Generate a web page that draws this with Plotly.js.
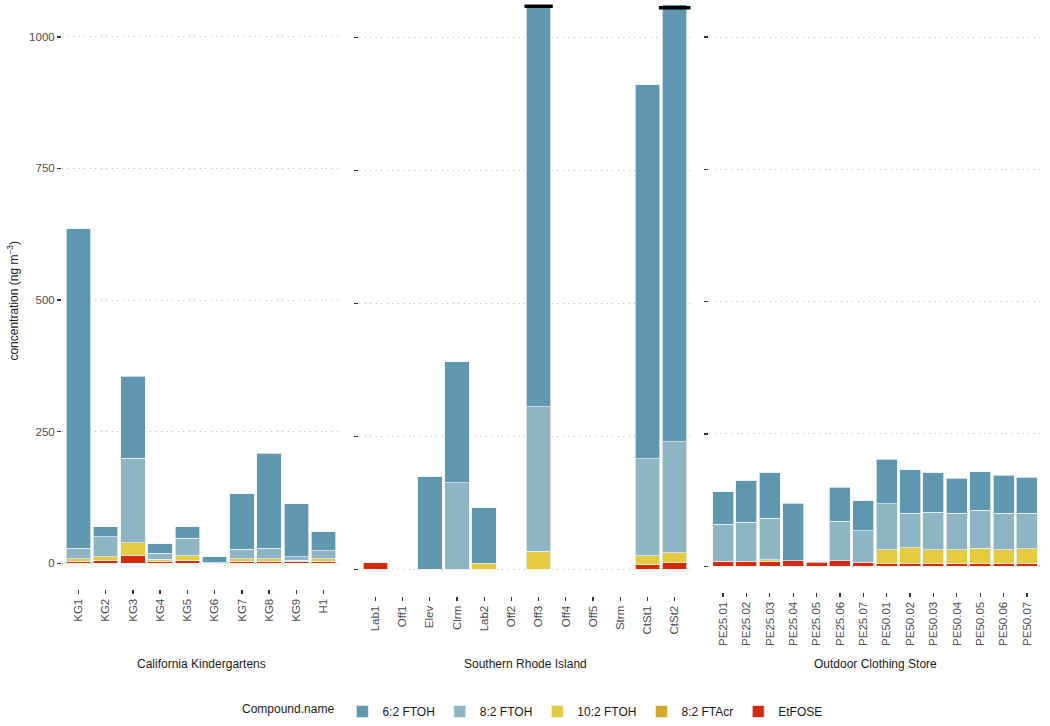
<!DOCTYPE html>
<html>
<head>
<meta charset="utf-8">
<script src="https://cdn.plot.ly/plotly-3.0.1.min.js"></script>
<style>html,body{margin:0;padding:0;background:#fff}#chart{width:1050px;height:726px}</style>
</head>
<body>
<div id="chart"></div>
<script>
// ---- Data ----
const compounds = ['6:2 FTOH', '8:2 FTOH', '10:2 FTOH', '8:2 FTAcr', 'EtFOSE'];
const colors = ['#5f97b0', '#8db5c3', '#e3ca3f', '#d3a92a', '#d42a0c'];

const panelNames = ['California Kindergartens', 'Southern Rhode Island', 'Outdoor Clothing Store'];

const catKG = ['KG1', 'KG2', 'KG3', 'KG4', 'KG5', 'KG6', 'KG7', 'KG8', 'KG9', 'H1'];
const catRI = ['Lab1', 'Off1', 'Elev', 'Clrm', 'Lab2', 'Off2', 'Off3', 'Off4', 'Off5', 'Strm', 'CtSt1', 'CtSt2'];
const catOC = ['PE25.01', 'PE25.02', 'PE25.03', 'PE25.04', 'PE25.05', 'PE25.06', 'PE25.07',
               'PE50.01', 'PE50.02', 'PE50.03', 'PE50.04', 'PE50.05', 'PE50.06', 'PE50.07'];

// California Kindergartens
const ftoh62_KG  = [606.5, 19, 156, 18, 21.5, 11, 105.5, 180.5, 101, 36];
const ftoh82_KG  = [19.5, 38, 160, 11.4, 33.5, 1, 17.5, 19.5, 6, 14.4];
const ftoh102_KG = [5, 7, 24, 3.6, 8, 0, 5, 5, 2, 5];
const ftacr_KG   = [0, 0, 0, 0, 0, 0, 0, 0, 0, 0];
const etfose_KG  = [4, 5, 15, 4, 6, 0, 4, 4, 4, 4];

// Southern Rhode Island
const ftoh62_RI  = [0, 0, 174, 227, 104.6, 0, 756, 0, 0, 0, 703.5, 822];
const ftoh82_RI  = [0, 0, 0, 163, 0, 0, 272, 0, 0, 0, 182.5, 209];
const ftoh102_RI = [0, 0, 0, 0, 11, 0, 34, 0, 0, 0, 17, 19];
const ftacr_RI   = [0, 0, 0, 0, 0, 0, 0, 0, 0, 0, 0, 0];
const etfose_RI  = [12, 0, 0, 0, 0, 0, 0, 0, 0, 0, 8, 12];

// Outdoor Clothing Store
const ftoh62_OC  = [62, 78.5, 86, 109, 0, 64, 57, 84, 82, 75, 66.5, 72.4, 71.5, 68];
const ftoh82_OC  = [69.6, 74, 78.5, 0, 0, 74.7, 59.5, 86.6, 65.5, 71, 68.6, 72, 69, 67.3];
const ftoh102_OC = [0, 0, 3, 0, 0, 0, 0, 26.4, 29.5, 26, 26.4, 29, 26, 27.7];
const ftacr_OC   = [0, 0, 0, 0, 0, 0, 0, 0, 0, 0, 0, 0, 0, 0];
const etfose_OC  = [9.4, 9.4, 9.4, 10, 8, 10.7, 7.5, 5, 5, 5, 5, 5, 5, 5];

// truncated bars (axis-break markers)
const breakCats = ['Off3', 'CtSt2'];
const breakLevels = [1059, 1056];

const yTicks = [0, 250, 500, 750, 1000];

// ---- Build ----
const panels = [
  {cats: catKG, series: [ftoh62_KG, ftoh82_KG, ftoh102_KG, ftacr_KG, etfose_KG], xa: 'x', ya: 'y'},
  {cats: catRI, series: [ftoh62_RI, ftoh82_RI, ftoh102_RI, ftacr_RI, etfose_RI], xa: 'x2', ya: 'y2'},
  {cats: catOC, series: [ftoh62_OC, ftoh82_OC, ftoh102_OC, ftacr_OC, etfose_OC], xa: 'x3', ya: 'y3'}
];

const traces = [];
// stacking order: bottom first (EtFOSE ... 6:2 FTOH on top)
for (let c = compounds.length - 1; c >= 0; c--) {
  panels.forEach((p, pi) => {
    traces.push({
      type: 'bar',
      name: compounds[c],
      legendgroup: compounds[c],
      showlegend: pi === 0,
      x: p.cats,
      y: p.series[c].map(v => v === 0 ? null : v),
      xaxis: p.xa,
      yaxis: p.ya,
      marker: {color: colors[c], line: {color: 'rgba(235,243,246,0.9)', width: 0.8}},
      hoverinfo: 'x+y+name'
    });
  });
}

const FONT = 'Liberation Sans, Arial, Helvetica, sans-serif';
const W = 1050, H = 726;
const px = v => v / W;
const py = v => 1 - v / H;

function xAxis(domain, n) {
  return {
    domain: domain, type: 'category', range: [-0.6, n - 0.4],
    tickangle: -90, ticks: 'outside', ticklen: 4, tickwidth: 1.3, tickcolor: '#333',
    showgrid: false, showline: false, zeroline: false, fixedrange: true,
    tickfont: {family: FONT, size: 11.5, color: '#4d4d4d'}
  };
}
function yAxis(domain, range, anchor, labels) {
  return {
    domain: domain, range: range, anchor: anchor,
    tickvals: yTicks, showticklabels: labels,
    ticks: 'outside', ticklen: 4, tickwidth: 1.3, tickcolor: '#333',
    showgrid: true, gridcolor: '#b5b5b5', gridwidth: 1, griddash: '1px,4.5px',
    zeroline: false, showline: false, fixedrange: true,
    tickfont: {family: FONT, size: 11.5, color: '#4d4d4d'}
  };
}

const xa1 = xAxis([px(62), px(340)], catKG.length); xa1.anchor = 'y';
const xa2 = xAxis([px(359), px(691)], catRI.length); xa2.anchor = 'y2';
const xa3 = xAxis([px(709), px(1041)], catOC.length); xa3.anchor = 'y3';

const shapes = breakCats.map((cat, i) => {
  const idx = catRI.indexOf(cat);
  const half = i === 0 ? 0.52 : 0.58;
  return {type: 'line', xref: 'x2', yref: 'y2', x0: idx - half, x1: idx + half,
          y0: breakLevels[i], y1: breakLevels[i], line: {color: '#000', width: 3.5}};
});

const annotations = [
  {text: 'concentration (ng m<sup>\u22123</sup>)', xref: 'paper', yref: 'paper',
   x: px(13), y: py(301), textangle: -90, showarrow: false, xanchor: 'center', yanchor: 'middle',
   font: {family: FONT, size: 12, color: '#1a1a1a'}},
  {text: panelNames[0], xref: 'paper', yref: 'paper', x: px(201), y: py(665), showarrow: false,
   xanchor: 'center', yanchor: 'middle', font: {family: FONT, size: 12, color: '#1a1a1a'}},
  {text: panelNames[1], xref: 'paper', yref: 'paper', x: px(525), y: py(665), showarrow: false,
   xanchor: 'center', yanchor: 'middle', font: {family: FONT, size: 12, color: '#1a1a1a'}},
  {text: panelNames[2], xref: 'paper', yref: 'paper', x: px(875), y: py(665), showarrow: false,
   xanchor: 'center', yanchor: 'middle', font: {family: FONT, size: 12, color: '#1a1a1a'}}
];

const layout = {
  width: W, height: H,
  margin: {l: 0, r: 0, t: 0, b: 0},
  paper_bgcolor: '#fff', plot_bgcolor: '#fff',
  font: {family: FONT, size: 12, color: '#1a1a1a'},
  barmode: 'stack', bargap: 0.1,
  showlegend: true,
  legend: {
    orientation: 'h', x: px(534), xanchor: 'center', y: py(712), yanchor: 'middle',
    traceorder: 'reversed', title: {text: 'Compound.name', side: 'left', font: {family: FONT, size: 12, color: '#1a1a1a'}},
    font: {family: FONT, size: 12, color: '#1a1a1a'}, itemwidth: 30
  },
  xaxis: xa1, xaxis2: xa2, xaxis3: xa3,
  yaxis: yAxis([py(590), 1], [-49.3, 1070], 'x', true),
  yaxis2: yAxis([py(597), 1], [-50.7, 1070.8], 'x2', false),
  yaxis3: yAxis([py(593), 1], [-49, 1070], 'x3', false),
  shapes: shapes,
  annotations: annotations
};

Plotly.newPlot('chart', traces, layout, {displayModeBar: false, staticPlot: true});
</script>
</body>
</html>
